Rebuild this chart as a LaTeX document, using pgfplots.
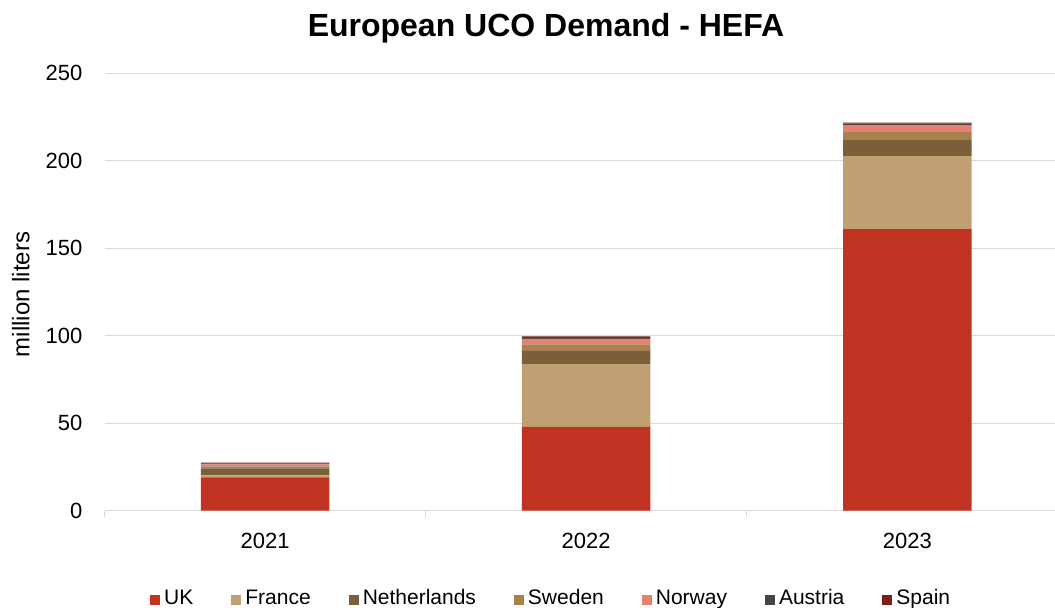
\documentclass[border=0pt]{standalone}
\usepackage{fontspec}
\setmainfont{Liberation Sans}
\usepackage{pgfplots}
\pgfplotsset{compat=1.18}
\definecolor{cUK}{RGB}{192,51,35}
\definecolor{cFR}{RGB}{192,160,115}
\definecolor{cNL}{RGB}{123,94,58}
\definecolor{cSE}{RGB}{168,130,78}
\definecolor{cNO}{RGB}{232,128,112}
\definecolor{cAT}{RGB}{68,68,68}
\definecolor{cES}{RGB}{122,30,22}
\definecolor{gridgray}{RGB}{217,217,217}
\begin{document}
\begin{tikzpicture}
\useasboundingbox (0,0) rectangle (527.5pt,303.5pt);
\begin{axis}[
  at={(52.25pt,48.25pt)}, anchor=south west,
  width=475.25pt, height=218.75pt, scale only axis,
  ybar stacked, bar width=0.4,
  xmin=-0.5, xmax=2.46, ymin=0, ymax=250,
  xtick={0,1,2}, xticklabels={2021,2022,2023},
  minor xtick={-0.5,0.5,1.5},
  major x tick style={draw=none},
  minor x tick style={draw=gridgray, line width=0.5pt},
  minor tick length=3pt,
  tick align=outside,
  ytick={0,50,...,250},
  ytick style={draw=none},
  ymajorgrids, grid style={draw=gridgray, line width=0.5pt},
  axis lines*=left,
  y axis line style={draw=none},
  x axis line style={draw=gridgray, line width=0.75pt},
  /pgf/number format/assume math mode=true,
  tick label style={font=\fontsize{11}{13}\selectfont},
  yticklabel style={xshift=-3.3pt},
  xticklabel style={yshift=-3.5pt},
  ylabel={million liters},
  ylabel style={at={(-0.088,0.494)}, anchor=center, rotate=0, font=\fontsize{12}{14}\selectfont},
  legend style={at={(0.471,-0.204)}, anchor=center, draw=none, fill=none,
    legend columns=7, font=\fontsize{10.5}{12}\selectfont,
    nodes={text height=0.72em, text depth=0.2em},
    /tikz/every even column/.append style={column sep=17pt}},
  legend image code/.code={\fill[#1,draw=none] (0pt,-2.5pt) rectangle (5pt,2.5pt);},
]
\addplot[fill=cUK, draw=none] coordinates {(0,19.0) (1,47.8) (2,160.8)};
\addplot[fill=cFR, draw=none] coordinates {(0,1.1) (1,35.8) (2,41.7)};
\addplot[fill=cNL, draw=none] coordinates {(0,4.0) (1,7.6) (2,9.1)};
\addplot[fill=cSE, draw=none] coordinates {(0,1.1) (1,3.7) (2,4.6)};
\addplot[fill=cNO, draw=none] coordinates {(0,1.1) (1,3.2) (2,4.0)};
\addplot[fill=cAT, draw=none] coordinates {(0,0.7) (1,1.1) (2,1.0)};
\addplot[fill=cES, draw=none] coordinates {(0,0.3) (1,0.3) (2,0.4)};
\legend{UK,France,Netherlands,Sweden,Norway,Austria,Spain}
\end{axis}
\node[anchor=base, font=\fontsize{16}{19}\selectfont\bfseries] at (273pt,285.5pt) {European UCO Demand - HEFA};
\end{tikzpicture}
\end{document}
